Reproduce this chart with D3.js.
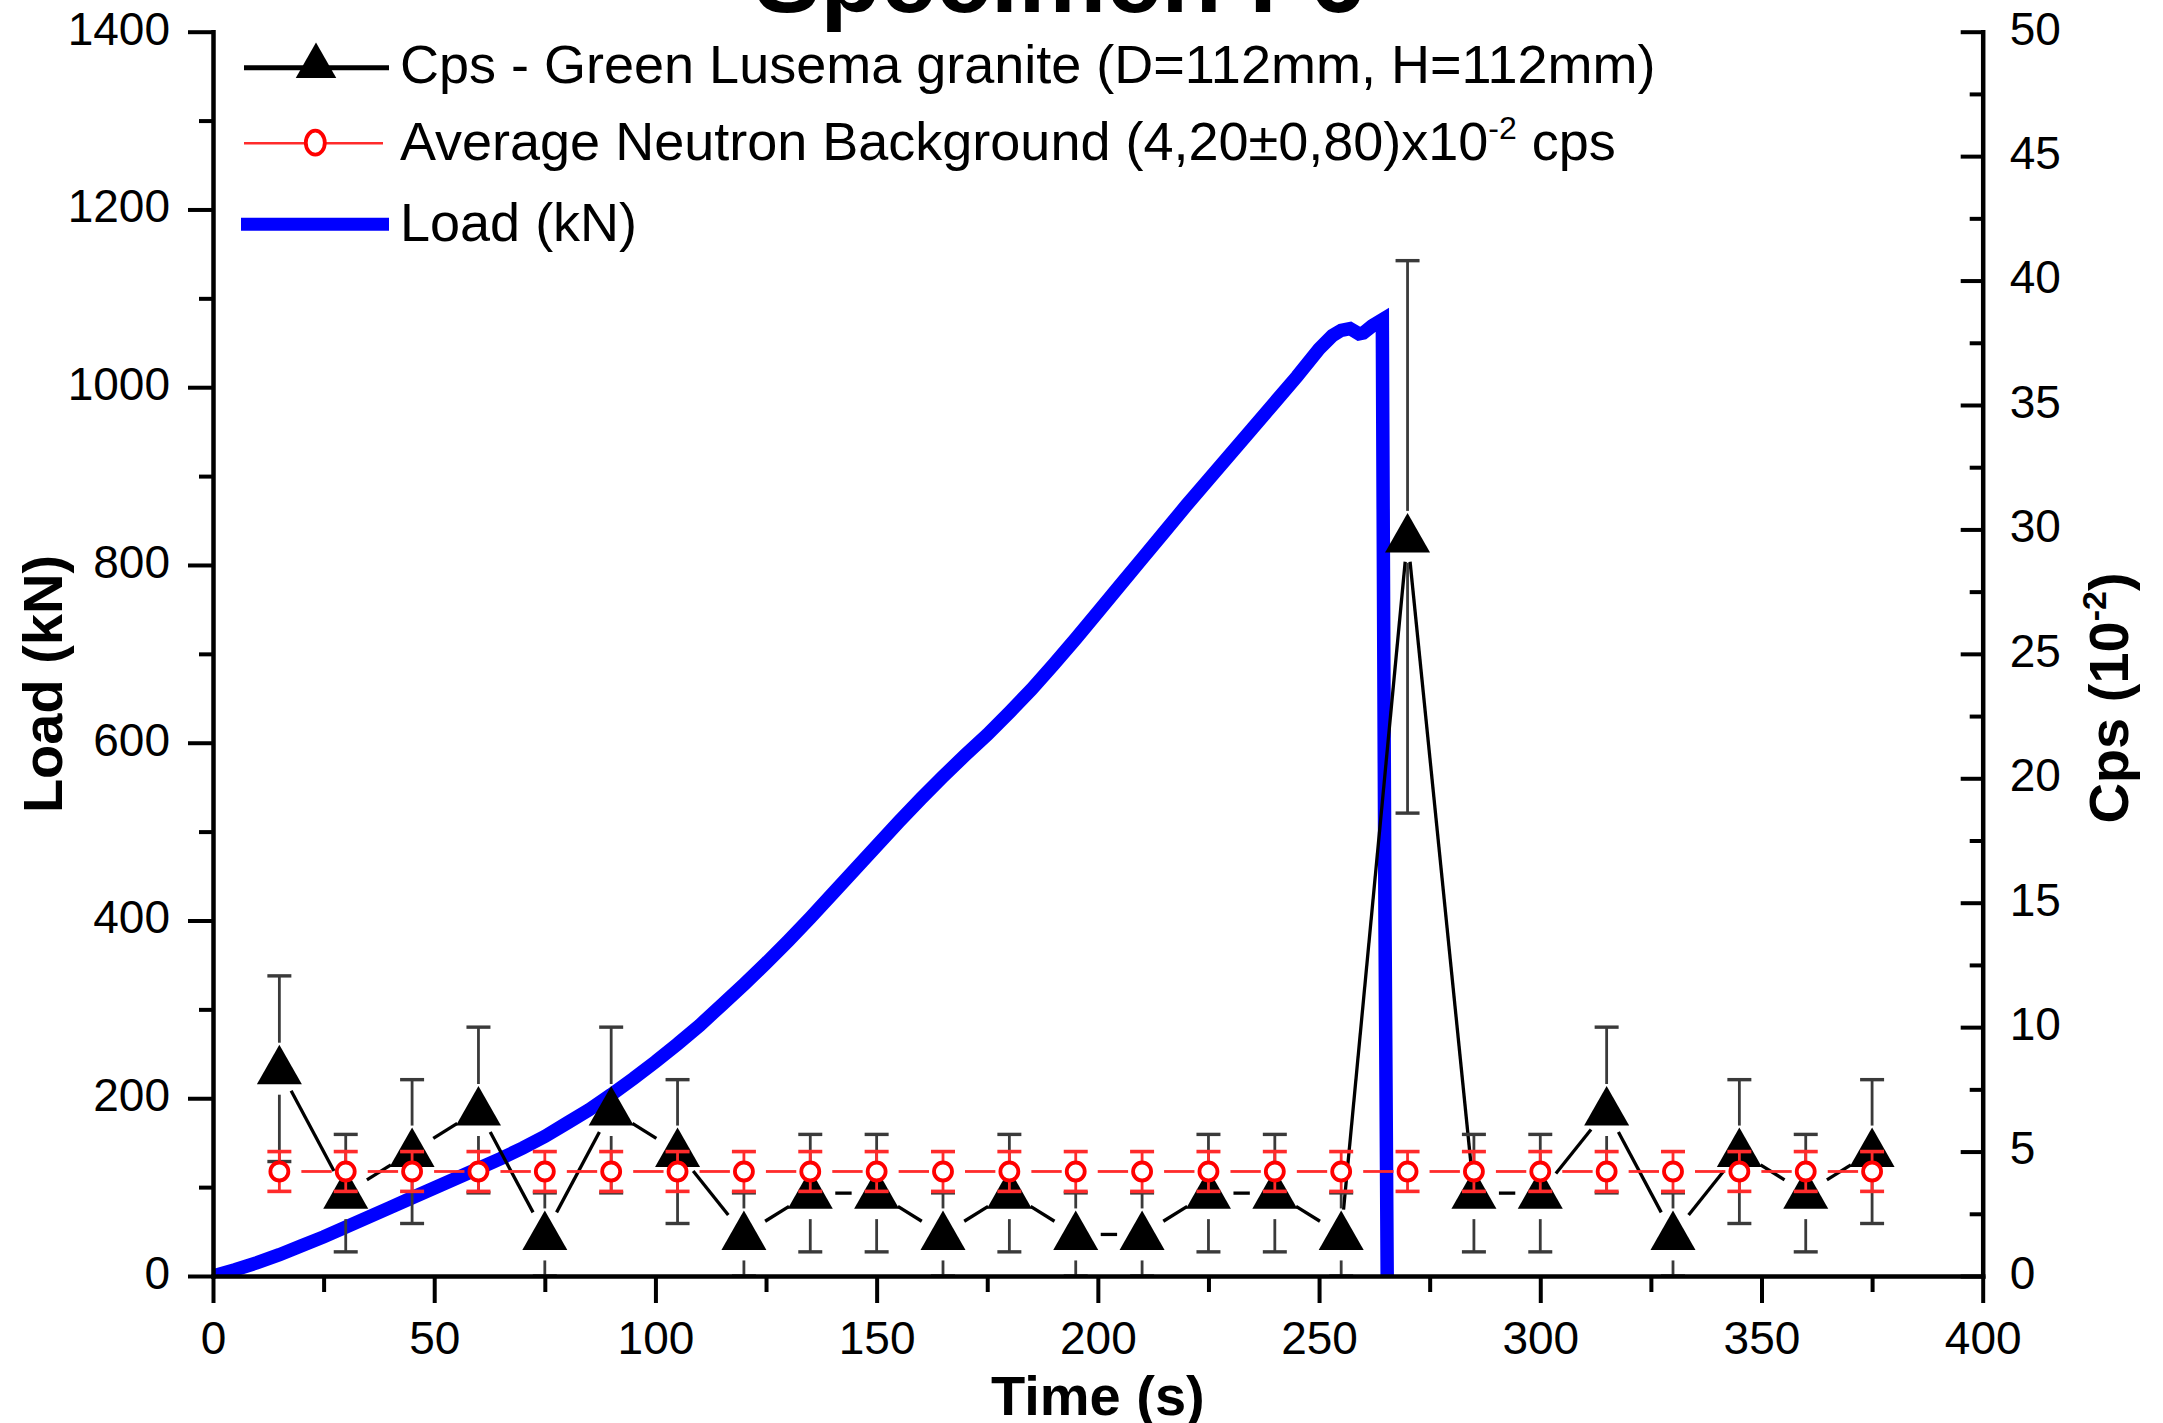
<!DOCTYPE html>
<html>
<head>
<meta charset="utf-8">
<script src="https://cdn.jsdelivr.net/npm/d3@7"></script>
<style>
  html, body { margin: 0; padding: 0; background: #fff; }
  svg { display: block; }
  text { font-family: "Liberation Sans", Arial, sans-serif; fill: #000; }
</style>
</head>
<body>
<svg id="chart" width="2163" height="1423"></svg>
<script>
// ---- data ----
// Counting intervals (s) for neutron counts
const countTimes = [15, 30, 45, 60, 75, 90, 105, 120, 135, 150, 165, 180, 195,
                    210, 225, 240, 255, 270, 285, 300, 315, 330, 345, 360, 375];
// Granite specimen count rate (x10^-2 cps) and its uncertainty
const cpsValues = [8.33, 3.33, 5.00, 6.67, 1.67, 6.67, 5.00, 1.67, 3.33, 3.33, 1.67, 3.33, 1.67,
                   1.67, 3.33, 3.33, 1.67, 29.7, 3.33, 3.33, 6.67, 1.67, 5.00, 3.33, 5.00];
const cpsErrors = [3.73, 2.36, 2.89, 3.33, 1.67, 3.33, 2.89, 1.67, 2.36, 2.36, 1.67, 2.36, 1.67,
                   1.67, 2.36, 2.36, 1.67, 11.1, 2.36, 2.36, 3.33, 1.67, 2.89, 2.36, 2.89];
// Average neutron background (x10^-2 cps)
const bgValues = [4.2, 4.2, 4.2, 4.2, 4.2, 4.2, 4.2, 4.2, 4.2, 4.2, 4.2, 4.2, 4.2,
                  4.2, 4.2, 4.2, 4.2, 4.2, 4.2, 4.2, 4.2, 4.2, 4.2, 4.2, 4.2];
const bgErrors = [0.8, 0.8, 0.8, 0.8, 0.8, 0.8, 0.8, 0.8, 0.8, 0.8, 0.8, 0.8, 0.8,
                  0.8, 0.8, 0.8, 0.8, 0.8, 0.8, 0.8, 0.8, 0.8, 0.8, 0.8, 0.8];
// Compression load record
const loadTime = [0, 5, 10, 15, 20, 25, 30, 35, 40, 45, 50, 55, 60, 65, 70, 75, 80, 85, 90, 95,
                  100, 105, 110, 115, 120, 125, 130, 135, 140, 145, 150, 155, 160, 165, 170, 175,
                  180, 185, 190, 195, 200, 205, 210, 215, 220, 225, 230, 235, 240, 245, 250,
                  253, 255, 257, 259, 260, 262, 264.3, 264.4, 264.9, 265.4];
const loadKN = [0, 7, 15, 24, 34, 44, 55, 66, 77, 88, 99, 110, 121, 132, 144, 157, 172, 187, 204, 222,
                241, 261, 282, 305, 328, 352, 377, 403, 430, 457, 484, 511, 537, 562, 586, 609,
                634, 660, 688, 717, 747, 777, 807, 837, 867, 896, 925, 954, 983, 1012, 1043,
                1058, 1064, 1066, 1060, 1061, 1069, 1076, 960, 400, 0];

// Axis ticks
const xMajor = [0, 50, 100, 150, 200, 250, 300, 350, 400];
const xMinor = [25, 75, 125, 175, 225, 275, 325, 375];
const yLoadMajor = [0, 200, 400, 600, 800, 1000, 1200, 1400];
const yLoadMinor = [100, 300, 500, 700, 900, 1100, 1300];
const yCpsMajor = [0, 5, 10, 15, 20, 25, 30, 35, 40, 45, 50];
const yCpsMinor = [2.5, 7.5, 12.5, 17.5, 22.5, 27.5, 32.5, 37.5, 42.5, 47.5];

const titleText = "Specimen F6";
const legendCps = "Cps - Green Lusema granite (D=112mm, H=112mm)";
const legendBgMain = "Average Neutron Background (4,20\u00B10,80)x10";
const legendBgSup = "-2";
const legendBgTail = " cps";
const legendLoad = "Load (kN)";

// ---- layout ----
const svg = d3.select("#chart");
const plotL = 213, plotR = 1982.7, plotT = 31.7, plotB = 1276;

const x = d3.scaleLinear().domain([0, 400]).range([plotL, plotR]);
const yL = d3.scaleLinear().domain([0, 1400]).range([plotB, plotT]);
const yR = d3.scaleLinear().domain([0, 50]).range([plotB, plotT]);

const BLACK = "#000", RED = "#ff0000", REDLINE = "#ff2b2b", BLUE = "#0000ff", BAR = "#3a3a3a";

svg.append("defs").append("clipPath").attr("id", "plotClip")
  .append("rect").attr("x", plotL).attr("y", plotT)
  .attr("width", plotR - plotL).attr("height", plotB - plotT);

// ---- load curve ----
const loadLine = d3.line().x((d, i) => x(loadTime[i])).y(d => yL(d));
svg.append("path")
  .attr("clip-path", "url(#plotClip)")
  .attr("d", loadLine(loadKN))
  .attr("fill", "none").attr("stroke", BLUE).attr("stroke-width", 13.5);

// symbol helpers
function triPath(cx, cy, s) {
  return `M${cx},${cy - 24 * s}L${cx + 22.5 * s},${cy + 15.5 * s}L${cx - 22.5 * s},${cy + 15.5 * s}Z`;
}

// segments joining neighbouring points, leaving a gap around each symbol
function gappedSegments(pts, gapA, gapB) {
  const segs = [];
  for (let i = 0; i < pts.length - 1; i++) {
    const [x1, y1] = pts[i], [x2, y2] = pts[i + 1];
    const dx = x2 - x1, dy = y2 - y1, len = Math.hypot(dx, dy);
    if (len <= gapA + gapB + 1) continue;
    const ux = dx / len, uy = dy / len;
    segs.push([x1 + ux * gapA, y1 + uy * gapA, x2 - ux * gapB, y2 - uy * gapB]);
  }
  return segs;
}

// ---- granite count rate ----
const cpsPts = countTimes.map((t, i) => [x(t), yR(cpsValues[i])]);
const gCps = svg.append("g");
gCps.selectAll("line.seg").data(gappedSegments(cpsPts, 25, 25)).join("line")
  .attr("class", "seg")
  .attr("x1", d => d[0]).attr("y1", d => d[1]).attr("x2", d => d[2]).attr("y2", d => d[3])
  .attr("stroke", BLACK).attr("stroke-width", 3.3);

const barGap = 26, capW = 12;
countTimes.forEach((t, i) => {
  const cx = x(t), cy = yR(cpsValues[i]);
  const yTop = yR(cpsValues[i] + cpsErrors[i]);
  const yBot = yR(Math.max(0, cpsValues[i] - cpsErrors[i]));
  if (cy - yTop > barGap) {
    gCps.append("line").attr("x1", cx).attr("x2", cx).attr("y1", cy - barGap).attr("y2", yTop)
      .attr("stroke", BAR).attr("stroke-width", 2.8);
  }
  gCps.append("line").attr("x1", cx - capW).attr("x2", cx + capW).attr("y1", yTop).attr("y2", yTop)
    .attr("stroke", BAR).attr("stroke-width", 3.4);
  if (yBot - cy > barGap) {
    gCps.append("line").attr("x1", cx).attr("x2", cx).attr("y1", cy + barGap).attr("y2", yBot)
      .attr("stroke", BAR).attr("stroke-width", 2.8);
  }
  gCps.append("line").attr("x1", cx - capW).attr("x2", cx + capW).attr("y1", yBot).attr("y2", yBot)
    .attr("stroke", BAR).attr("stroke-width", 3.4);
});
gCps.selectAll("path.tri").data(cpsPts).join("path")
  .attr("class", "tri")
  .attr("d", d => triPath(d[0], d[1], 1))
  .attr("fill", BLACK);

// ---- background ----
const bgPts = countTimes.map((t, i) => [x(t), yR(bgValues[i])]);
const gBg = svg.append("g");
gBg.selectAll("line.seg").data(gappedSegments(bgPts, 22, 14)).join("line")
  .attr("class", "seg")
  .attr("x1", d => d[0]).attr("y1", d => d[1]).attr("x2", d => d[2]).attr("y2", d => d[3])
  .attr("stroke", REDLINE).attr("stroke-width", 2.8);
countTimes.forEach((t, i) => {
  const cx = x(t);
  const yTop = yR(bgValues[i] + bgErrors[i]);
  const yBot = yR(bgValues[i] - bgErrors[i]);
  gBg.append("line").attr("x1", cx).attr("x2", cx).attr("y1", yTop).attr("y2", yBot)
    .attr("stroke", REDLINE).attr("stroke-width", 2.8);
  [yTop, yBot].forEach(yy => {
    gBg.append("line").attr("x1", cx - 12).attr("x2", cx + 12).attr("y1", yy).attr("y2", yy)
      .attr("stroke", REDLINE).attr("stroke-width", 3.6);
  });
});
gBg.selectAll("circle").data(bgPts).join("circle")
  .attr("cx", d => d[0]).attr("cy", d => d[1]).attr("r", 9)
  .attr("fill", "#fff").attr("stroke", RED).attr("stroke-width", 3.8);

// ---- axes ----
function styleAxis(g, fontSize) {
  g.selectAll(".domain").attr("stroke", BLACK).attr("stroke-width", 4.5).attr("stroke-linecap", "square");
  g.selectAll(".tick line").attr("stroke", BLACK).attr("stroke-width", 4);
  g.selectAll(".tick text").attr("font-size", fontSize)
    .attr("font-family", "'Liberation Sans', Arial, sans-serif").attr("fill", BLACK);
}
const tickFont = 46;

// bottom
svg.append("g").attr("transform", `translate(0,${plotB})`)
  .call(d3.axisBottom(x).tickValues(xMinor).tickSize(16).tickSizeOuter(0).tickFormat(""))
  .call(g => g.select(".domain").remove())
  .call(g => styleAxis(g, tickFont));
svg.append("g").attr("transform", `translate(0,${plotB})`)
  .call(d3.axisBottom(x).tickValues(xMajor).tickSize(27).tickSizeOuter(0).tickPadding(18).tickFormat(d3.format("d")))
  .call(g => styleAxis(g, tickFont));

// left
svg.append("g").attr("transform", `translate(${plotL},0)`)
  .call(d3.axisLeft(yL).tickValues(yLoadMinor).tickSize(14).tickSizeOuter(0).tickFormat(""))
  .call(g => g.select(".domain").remove())
  .call(g => styleAxis(g, tickFont));
svg.append("g").attr("transform", `translate(${plotL},0)`)
  .call(d3.axisLeft(yL).tickValues(yLoadMajor).tickSize(25).tickSizeOuter(0).tickPadding(18).tickFormat(d3.format("d")))
  .call(g => styleAxis(g, tickFont))
  .call(g => g.selectAll(".tick text").attr("dy", "0.27em"));

// right (ticks point into the plot)
svg.append("g").attr("transform", `translate(${plotR},0)`)
  .call(d3.axisRight(yR).tickValues(yCpsMinor).tickSize(-13).tickSizeOuter(0).tickFormat(""))
  .call(g => g.select(".domain").remove())
  .call(g => styleAxis(g, tickFont));
svg.append("g").attr("transform", `translate(${plotR},0)`)
  .call(d3.axisRight(yR).tickValues(yCpsMajor).tickSize(-22).tickSizeOuter(0).tickPadding(27).tickFormat(d3.format("d")))
  .call(g => styleAxis(g, tickFont))
  .call(g => g.selectAll(".tick text").attr("dy", "0.27em"));

// ---- axis titles ----
svg.append("text").attr("x", (plotL + plotR) / 2).attr("y", 1415)
  .attr("text-anchor", "middle").attr("font-size", 56).attr("font-weight", "bold")
  .text("Time (s)");

svg.append("text").attr("transform", "translate(62,684) rotate(-90)")
  .attr("text-anchor", "middle").attr("font-size", 56).attr("font-weight", "bold")
  .text("Load (kN)");

const rTitle = svg.append("text").attr("transform", "translate(2128,698) rotate(-90)")
  .attr("text-anchor", "middle").attr("font-size", 56).attr("font-weight", "bold");
rTitle.append("tspan").text("Cps (10");
rTitle.append("tspan").attr("font-size", 34).attr("dy", -22).text("-2");
rTitle.append("tspan").attr("dy", 22).text(")");

// ---- title ----
svg.append("text").attr("x", 1059.5).attr("y", 12)
  .attr("text-anchor", "middle").attr("font-size", 99).attr("font-weight", "bold")
  .text(titleText);

// ---- legend ----
const lgX1 = 244, lgX2 = 389, lgMid = 316, lgText = 400, lgFont = 54;
const lg = svg.append("g");
// row 1
lg.append("line").attr("x1", lgX1).attr("x2", lgX2).attr("y1", 67.7).attr("y2", 67.7)
  .attr("stroke", BLACK).attr("stroke-width", 5);
lg.append("path").attr("d", triPath(lgMid, 64, 0.9)).attr("fill", BLACK);
lg.append("text").attr("x", lgText).attr("y", 83).attr("font-size", lgFont).text(legendCps);
// row 2
lg.append("line").attr("x1", lgX1).attr("x2", 383).attr("y1", 143.3).attr("y2", 143.3)
  .attr("stroke", REDLINE).attr("stroke-width", 2.6);
lg.append("ellipse").attr("cx", 315.3).attr("cy", 142.7).attr("rx", 9.5).attr("ry", 12)
  .attr("fill", "#fff").attr("stroke", RED).attr("stroke-width", 3.8);
const t2 = lg.append("text").attr("x", lgText).attr("y", 160).attr("font-size", lgFont);
t2.append("tspan").text(legendBgMain);
t2.append("tspan").attr("font-size", 32).attr("dy", -21).text(legendBgSup);
t2.append("tspan").attr("dy", 21).text(legendBgTail);
// row 3
lg.append("line").attr("x1", 241).attr("x2", lgX2).attr("y1", 224.3).attr("y2", 224.3)
  .attr("stroke", BLUE).attr("stroke-width", 13);
lg.append("text").attr("x", lgText).attr("y", 240.7).attr("font-size", lgFont).text(legendLoad);
</script>
</body>
</html>
